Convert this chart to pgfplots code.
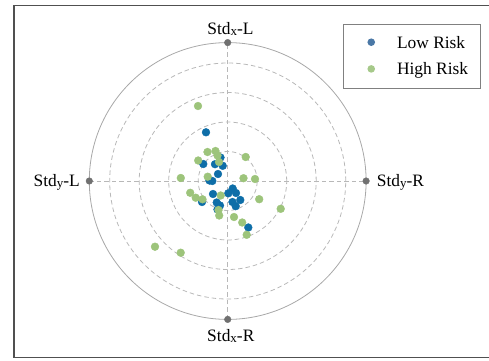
\documentclass[border=0pt]{standalone}
\usepackage{pgfplots}
\pgfplotsset{compat=1.18}
\usepackage{fontspec}
\setmainfont{Liberation Serif}
\definecolor{lowblue}{HTML}{0E6EA8}
\definecolor{highgreen}{HTML}{9DC47B}
\definecolor{legblue}{HTML}{4A78A6}
\definecolor{leggreen}{HTML}{A6C98A}
\definecolor{ringgray}{HTML}{B8B8B8}
\definecolor{outergray}{HTML}{A8A8A8}
\definecolor{dotgray}{HTML}{707070}
\definecolor{framegray}{HTML}{505050}
\newcommand{\lbl}[1]{\fontsize{17.4}{20}\selectfont #1}
\newcommand{\sub}[1]{\raisebox{-0.8pt}{\fontsize{13}{14}\selectfont #1}}
\begin{document}
\begin{tikzpicture}[x=1pt,y=1pt]
\useasboundingbox (0,0) rectangle (489,360);
\clip (0,0) rectangle (489,360);
% frame
\draw[framegray, line width=1.1pt] (14,2.5) rectangle (500,354.3);
% grid
\begin{scope}[shift={(227.7,179)}]
\foreach \r in {29.5,59,88.5,118}{
  \draw[ringgray, line width=0.8pt, dash pattern=on 4.5pt off 3pt] (0,0) circle[radius=\r];
}
\draw[ringgray, line width=0.8pt, dash pattern=on 4.5pt off 3pt] (-138.4,0) -- (138.4,0);
\draw[ringgray, line width=0.8pt, dash pattern=on 4.5pt off 3pt] (0,-138.4) -- (0,138.4);
\draw[outergray, line width=0.8pt] (0,0) circle[radius=138.4];
\end{scope}
% labels
\node[anchor=base, inner sep=0pt] at (230.5,325.7) {\lbl{Std\sub{x}-L}};
\node[anchor=base, inner sep=0pt] at (230.8,18.3) {\lbl{Std\sub{x}-R}};
\node[anchor=base east, inner sep=0pt] at (80,173.3) {\lbl{Std\sub{y}-L}};
\node[anchor=base west, inner sep=0pt] at (376.7,173.3) {\lbl{Std\sub{y}-R}};
\begin{axis}[
  hide axis, x=1pt, y=1pt,
  xmin=-150, xmax=150, ymin=-150, ymax=150,
  anchor=origin, at={(227.7pt,179pt)}, clip=false,
  legend cell align=left,
  legend style={at={(axis cs:252.8,156.7)}, anchor=north east,
    draw=gray, line width=0.8pt, fill=white,
    inner xsep=12pt, inner ysep=9.5pt,
    row sep=8.7pt, column sep=22pt,
    font=\fontsize{17.4}{20}\selectfont,
    nodes={inner sep=0pt, text height=14pt, text depth=4pt, anchor=west}},
]
\addplot[only marks, mark=*, mark size=3.3pt, color=dotgray,
  mark options={draw=none, fill=dotgray}, forget plot] coordinates {
(0,138.4) (0,-138.4) (-138.4,0) (138.4,0)};
\addplot[only marks, mark=*, mark size=3.9pt, color=lowblue,
  mark options={draw=none, fill=lowblue},
  legend image code/.code={\fill[legblue, draw=none] (0pt,1pt) circle (3.8pt); \path[draw=none, fill=none] (-15.4pt,0pt) -- (3.8pt,0pt);}]
coordinates {
(-21.7,48.7) (-7.2,23.5) (-24.4,17) (-12.7,16.8) (-5,15.2) (-9.7,7)
(-18.2,0.5) (-15.4,0) (5,-7.5) (0.6,-12.3) (8.3,-12) (-14.7,-13)
(4.8,-21) (12.6,-19) (-25.7,-21) (-11,-21.5) (-7.7,-24.5) (8,-25.2)
(-10.2,-28.5) (20.6,-46.5)};
\addlegendentry{Low Risk}
\addplot[only marks, mark=*, mark size=3.9pt, color=highgreen,
  mark options={draw=none, fill=highgreen},
  legend image code/.code={\fill[leggreen, draw=none] (0pt,1pt) circle (3.8pt); \path[draw=none, fill=none] (-15.4pt,0pt) -- (3.8pt,0pt);}]
coordinates {
(-29.7,75) (-20.2,29) (-12.2,30) (-10.2,25.5) (18,24) (-29.5,20.5)
(-8.7,19) (-46.9,3) (-20,4.3) (15.8,2.8) (27.3,2) (-37.5,-11.8)
(-32,-16.7) (-25.2,-18.3) (-7,-14.5) (31.5,-18.2) (53,-27.8) (-9.2,-29)
(-8.5,-34.5) (6.3,-36) (14.5,-41.5) (19,-53.8) (-72.7,-65.7) (-47,-71.7)};
\addlegendentry{High Risk}
\end{axis}
\end{tikzpicture}
\end{document}
